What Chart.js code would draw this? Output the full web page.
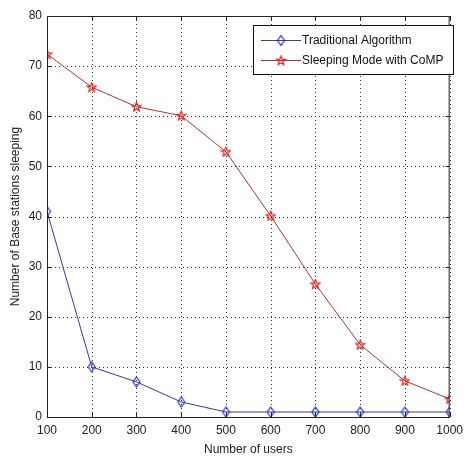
<!DOCTYPE html>
<html><head><meta charset="utf-8">
<script src="https://cdn.jsdelivr.net/npm/chart.js@4.4.0/dist/chart.umd.min.js"></script>
<style>html,body{margin:0;padding:0;background:#fff}</style>
</head><body>
<canvas id="c" width="469" height="457" style="width:469px;height:457px;display:block"></canvas>
<script>
const users = [100, 200, 300, 400, 500, 600, 700, 800, 900, 1000];
const traditional = [41, 10, 7, 3, 1, 1, 1, 1, 1, 1];
const sleepingCoMP = [72.4, 65.8, 61.9, 60.1, 52.9, 40.1, 26.5, 14.4, 7.2, 3.6];
const xTicks = [100, 200, 300, 400, 500, 600, 700, 800, 900, 1000];
const yTicks = [0, 10, 20, 30, 40, 50, 60, 70, 80];
const seriesLabels = ['Traditional Algorithm', 'Sleeping Mode with CoMP'];
const xTitle = 'Number of users';
const yTitle = 'Number of Base stations sleeping';

const FONT = "'Liberation Sans', Arial, sans-serif";
const BLUE_LINE = '#3a3aa0', BLUE_MK = '#2c2cc0';
const RED_LINE = '#a03a3a', RED_MK = '#e02020';

function makeDiamond(color){
  const c = document.createElement('canvas'); c.width = 11; c.height = 13;
  const g = c.getContext('2d'); g.strokeStyle = color; g.lineWidth = 1.2;
  g.beginPath(); g.moveTo(5.5,1.5); g.lineTo(9,6.5); g.lineTo(5.5,11.5); g.lineTo(2,6.5); g.closePath(); g.stroke();
  return c;
}
function makeStar(color){
  const c = document.createElement('canvas'); c.width = 11; c.height = 11;
  const g = c.getContext('2d'); g.strokeStyle = color; g.lineWidth = 1.2;
  const cx = 5.5, cy = 5.8, R = 4.8, r = 2.0;
  g.beginPath();
  for (let i = 0; i < 10; i++){
    const a = -Math.PI/2 + i*Math.PI/5; const rr = i%2 ? r : R;
    const px = cx + rr*Math.cos(a), py = cy + rr*Math.sin(a);
    if (i === 0) g.moveTo(px,py); else g.lineTo(px,py);
  }
  g.closePath(); g.stroke();
  return c;
}
const diamond = makeDiamond(BLUE_MK);
const star = makeStar(RED_MK);

const gridPlugin = {
  id: 'dottedGrid',
  beforeDatasetsDraw(chart){
    const {ctx, chartArea: a, scales} = chart;
    ctx.save();
    ctx.strokeStyle = '#333'; ctx.lineWidth = 1; ctx.setLineDash([1,3]);
    ctx.beginPath();
    xTicks.forEach(v => { const x = Math.round(scales.x.getPixelForValue(v))+0.5;
      ctx.moveTo(x, a.top); ctx.lineTo(x, a.bottom); });
    yTicks.forEach(v => { const y = Math.round(scales.y.getPixelForValue(v))+0.5;
      ctx.moveTo(a.left, y); ctx.lineTo(a.right, y); });
    ctx.stroke();
    ctx.restore();
  }
};

const framePlugin = {
  id: 'frame',
  afterDatasetsDraw(chart){
    const {ctx, chartArea: a, scales} = chart;
    ctx.save();
    ctx.strokeStyle = '#222'; ctx.lineWidth = 1;
    ctx.strokeRect(a.left+0.5, a.top+0.5, a.right-a.left-1, a.bottom-a.top);
    ctx.beginPath();
    xTicks.forEach(v => { const x = Math.round(scales.x.getPixelForValue(v))+0.5;
      ctx.moveTo(x, a.bottom); ctx.lineTo(x, a.bottom-4); ctx.moveTo(x, a.top); ctx.lineTo(x, a.top+4); });
    yTicks.forEach(v => { const y = Math.round(scales.y.getPixelForValue(v))+0.5;
      ctx.moveTo(a.left, y); ctx.lineTo(a.left+4, y); ctx.moveTo(a.right, y); ctx.lineTo(a.right-4, y); });
    ctx.stroke();
    // legend
    const lx = 253, ly = 25, lw = 200, lh = 49;
    ctx.fillStyle = '#fff'; ctx.fillRect(lx, ly, lw, lh);
    ctx.strokeStyle = '#111'; ctx.strokeRect(lx+0.5, ly+0.5, lw, lh);
    ctx.font = '12px ' + FONT; ctx.textBaseline = 'middle'; ctx.textAlign = 'left';
    chart.data.datasets.forEach((ds, i) => {
      const y = ly + 15 + i*20;
      ctx.strokeStyle = ds.borderColor; ctx.lineWidth = 1;
      ctx.beginPath(); ctx.moveTo(lx+8, y+0.5); ctx.lineTo(lx+48, y+0.5); ctx.stroke();
      const img = ds.pointStyle;
      ctx.drawImage(img, lx+28-img.width/2, y-img.height/2+0.5);
      ctx.fillStyle = '#111';
      ctx.fillText(ds.label, lx+49, y+1);
    });
    ctx.restore();
  }
};

new Chart(document.getElementById('c'), {
  type: 'line',
  data: {
    datasets: [
      { label: seriesLabels[0], data: users.map((u,i)=>({x:u, y:traditional[i]})),
        borderColor: BLUE_LINE, borderWidth: 1, pointStyle: diamond, pointRadius: 6, tension: 0, fill: false },
      { label: seriesLabels[1], data: users.map((u,i)=>({x:u, y:sleepingCoMP[i]})),
        borderColor: RED_LINE, borderWidth: 1, pointStyle: star, pointRadius: 5, tension: 0, fill: false }
    ]
  },
  options: {
    responsive: false, animation: false, devicePixelRatio: 1,
    layout: { padding: { top: 16, right: 11, left: 0, bottom: 0 } },
    plugins: { legend: { display: false }, tooltip: { enabled: false } },
    scales: {
      x: {
        type: 'linear', min: 100, max: 1000,
        afterBuildTicks: s => { s.ticks = xTicks.map(v => ({value: v})); },
        afterFit: s => { s.height = 40; },
        grid: { display: false, drawTicks: false },
        border: { display: false },
        ticks: { color: '#222', font: { family: FONT, size: 12 }, padding: 6, maxRotation: 0, autoSkip: false,
                 callback: v => String(v) },
        title: { display: true, text: xTitle, color: '#222', font: { family: FONT, size: 12 }, padding: { top: 0, bottom: 0 } }
      },
      y: {
        min: 0, max: 80,
        afterBuildTicks: s => { s.ticks = yTicks.map(v => ({value: v})); },
        afterFit: s => { s.width = 47; },
        grid: { display: false, drawTicks: false },
        border: { display: false },
        ticks: { color: '#222', font: { family: FONT, size: 12 }, padding: 5, callback: v => String(v) },
        title: { display: true, text: yTitle, color: '#222', font: { family: FONT, size: 12 }, padding: { top: 8, bottom: 0 } }
      }
    }
  },
  plugins: [gridPlugin, framePlugin]
});
</script>
</body></html>
